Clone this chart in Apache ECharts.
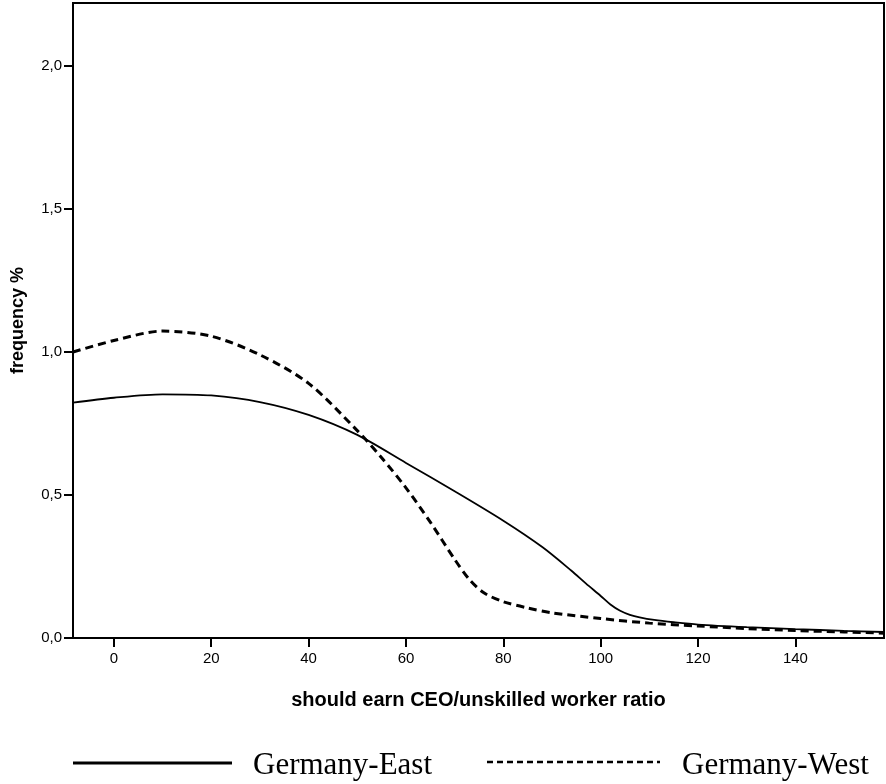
<!DOCTYPE html>
<html>
<head>
<meta charset="utf-8">
<script src="https://cdn.jsdelivr.net/npm/echarts@6/dist/echarts.min.js"></script>
<style>html,body{margin:0;padding:0;background:#fff}#c{width:886px;height:784px}</style>
</head>
<body>
<div id="c"></div>
<script>
var xTicks = [0, 20, 40, 60, 80, 100, 120, 140];
var yTicks = [0, 0.5, 1.0, 1.5, 2.0];
var eastX = [-8.4, 0, 10, 20, 30, 40, 50, 60, 70, 80, 88, 94, 97, 100, 102, 104, 106, 108, 111, 115, 120, 130, 140, 150, 158.2];
var eastY = [0.823, 0.84, 0.852, 0.848, 0.825, 0.78, 0.71, 0.612, 0.513, 0.41, 0.318, 0.235, 0.19, 0.147, 0.117, 0.095, 0.081, 0.072, 0.063, 0.055, 0.047, 0.038, 0.031, 0.025, 0.021];
var westX = [-8.4, 0, 10, 20, 30, 40, 50, 55, 60, 65, 70, 73, 76, 80, 85, 90, 100, 110, 120, 130, 140, 150, 158.2];
var westY = [1.0, 1.04, 1.073, 1.055, 0.99, 0.89, 0.725, 0.63, 0.525, 0.405, 0.275, 0.205, 0.158, 0.127, 0.105, 0.088, 0.068, 0.052, 0.042, 0.033, 0.026, 0.021, 0.017];
var seriesNames = ['Germany-East', 'Germany-West'];

function pairs(xs, ys) { return xs.map(function (x, i) { return [x, ys[i]]; }); }

var chart = echarts.init(document.getElementById('c'), null, {renderer: 'canvas'});
chart.setOption({
  animation: false,
  backgroundColor: '#fff',
  grid: {left: 73, right: 2, top: 3, bottom: 146, containLabel: false, outerBoundsMode: 'none', show: true, borderColor: '#000', borderWidth: 2, backgroundColor: 'transparent'},
  xAxis: {
    type: 'value', min: -8.4, max: 158.2,
    name: 'should earn CEO/unskilled worker ratio', nameLocation: 'middle', nameGap: 52,
    nameTextStyle: {fontFamily: 'Liberation Sans', fontWeight: 'bold', fontSize: 20, color: '#000'},
    axisLine: {show: true, onZero: false, lineStyle: {color: '#000', width: 2}},
    axisTick: {show: true, length: 9, inside: false, lineStyle: {color: '#000', width: 2}, customValues: xTicks},
    axisLabel: {customValues: xTicks, fontFamily: 'Liberation Sans', fontSize: 15, color: '#000', margin: 13},
    splitLine: {show: false}
  },
  yAxis: {
    type: 'value', min: 0, max: 2.22,
    name: 'frequency %', nameLocation: 'middle', nameGap: 46,
    nameTextStyle: {fontFamily: 'Liberation Sans', fontWeight: 'bold', fontSize: 18, color: '#000'},
    axisLine: {show: true, onZero: false, lineStyle: {color: '#000', width: 2}},
    axisTick: {show: true, length: 9, lineStyle: {color: '#000', width: 2}, customValues: yTicks},
    axisLabel: {customValues: yTicks, fontFamily: 'Liberation Sans', fontSize: 15, color: '#000', margin: 11,
      formatter: function (v) { return v.toFixed(1).replace('.', ','); }},
    splitLine: {show: false}
  },
  series: [
    {name: seriesNames[0], type: 'line', smooth: 0.3, showSymbol: false, data: pairs(eastX, eastY),
      lineStyle: {color: '#000', width: 1.8, type: 'solid'}},
    {name: seriesNames[1], type: 'line', smooth: 0.3, showSymbol: false, data: pairs(westX, westY),
      lineStyle: {color: '#000', width: 3, type: [8, 5]}}
  ],
  graphic: [
    {type: 'line', shape: {x1: 73, y1: 763, x2: 232, y2: 763}, style: {stroke: '#000', lineWidth: 3}},
    {type: 'text', x: 253, y: 766, style: {text: seriesNames[0], fontFamily: 'Liberation Serif', fontSize: 31, fill: '#000', verticalAlign: 'middle'}},
    {type: 'line', shape: {x1: 487, y1: 762, x2: 660, y2: 762}, style: {stroke: '#000', lineWidth: 2.5, lineDash: [6, 4]}},
    {type: 'text', x: 682, y: 766, style: {text: seriesNames[1], fontFamily: 'Liberation Serif', fontSize: 31, fill: '#000', verticalAlign: 'middle'}}
  ]
});
</script>
</body>
</html>
